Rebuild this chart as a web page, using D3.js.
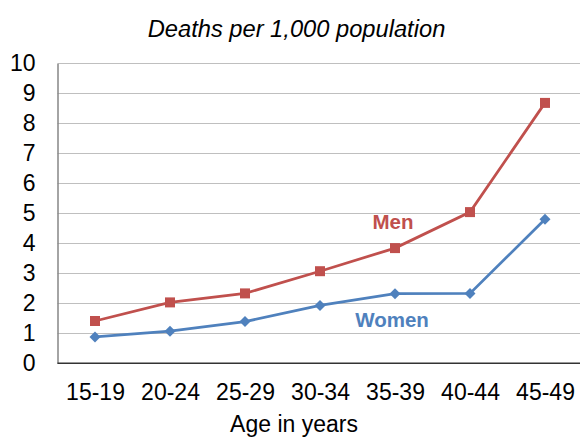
<!DOCTYPE html>
<html><head><meta charset="utf-8">
<script src="https://cdn.jsdelivr.net/npm/d3@7"></script>
<style>body{margin:0;background:#fff}svg{display:block;font-family:Arial,"Liberation Sans",sans-serif}</style>
</head><body><svg id="c" width="580" height="437"></svg>
<script>
const categories = ["15-19","20-24","25-29","30-34","35-39","40-44","45-49"];
const men =   [1.41, 2.03, 2.33, 3.07, 3.84, 5.04, 8.68];
const women = [0.88, 1.07, 1.39, 1.93, 2.32, 2.33, 4.80];
const yTicks = [0,1,2,3,4,5,6,7,8,9,10];

const svg = d3.select("#c");
const m = {l:57.5, t:63.3, r:582.5, b:363.3};
const x = d3.scalePoint().domain(categories).range([m.l, m.r]).padding(0.5);
const y = d3.scaleLinear().domain([0,10]).range([m.b, m.t]);

// gridlines
svg.append("g").selectAll("line").data(yTicks.filter(d=>d>0)).join("line")
  .attr("x1", m.l).attr("x2", 580).attr("y1", d=>Math.round(y(d))+0.5).attr("y2", d=>Math.round(y(d))+0.5)
  .attr("stroke", "#bfbfbf").attr("stroke-width", 1);

// y axis
const ya = svg.append("g").attr("transform", `translate(${m.l},0)`)
  .call(d3.axisLeft(y).tickValues(yTicks).tickSize(0).tickPadding(22).tickFormat(d3.format("d")));
ya.select(".domain").attr("stroke", "#868686").attr("stroke-width", 1.5);
ya.selectAll("text").attr("font-size", 23).attr("fill", "#000").attr("font-family", "Arial, 'Liberation Sans', sans-serif");

// x axis
const xa = svg.append("g").attr("transform", `translate(0,${m.b})`)
  .call(d3.axisBottom(x).tickSize(0).tickPadding(20));
xa.select(".domain").attr("stroke", "#333").attr("stroke-width", 1.5).attr("d", `M${m.l},0H580`);
xa.selectAll("text").attr("font-size", 23).attr("fill", "#000").attr("font-family", "Arial, 'Liberation Sans', sans-serif");

const line = d3.line().x((d,i)=>x(categories[i])).y(d=>y(d));

// men
svg.append("path").datum(men).attr("d", line).attr("fill","none").attr("stroke","#C0504D").attr("stroke-width",2.75);
svg.append("g").selectAll("path").data(men).join("path")
  .attr("d", d3.symbol(d3.symbolSquare, 100))
  .attr("transform", (d,i)=>`translate(${x(categories[i])},${y(d)})`)
  .attr("fill","#C0504D");

// women
svg.append("path").datum(women).attr("d", line).attr("fill","none").attr("stroke","#4F81BD").attr("stroke-width",2.75);
svg.append("g").selectAll("path").data(women).join("path")
  .attr("d", d3.symbol(d3.symbolSquare, 60))
  .attr("transform", (d,i)=>`translate(${x(categories[i])},${y(d)}) rotate(45)`)
  .attr("fill","#4F81BD");

// labels
svg.append("text").attr("x", 393).attr("y", 229).attr("text-anchor","middle")
  .attr("font-size", 20.5).attr("font-weight","bold").attr("fill","#C0504D").text("Men");
svg.append("text").attr("x", 392).attr("y", 327).attr("text-anchor","middle")
  .attr("font-size", 20.5).attr("font-weight","bold").attr("fill","#4F81BD").text("Women");

// title
svg.append("text").attr("x", 296.5).attr("y", 36.5).attr("text-anchor","middle")
  .attr("font-size", 23.7).attr("font-style","italic").attr("fill","#000").text("Deaths per 1,000 population");

// axis title
svg.append("text").attr("x", 294).attr("y", 432).attr("text-anchor","middle")
  .attr("font-size", 23).attr("fill","#000").text("Age in years");
</script></body></html>
